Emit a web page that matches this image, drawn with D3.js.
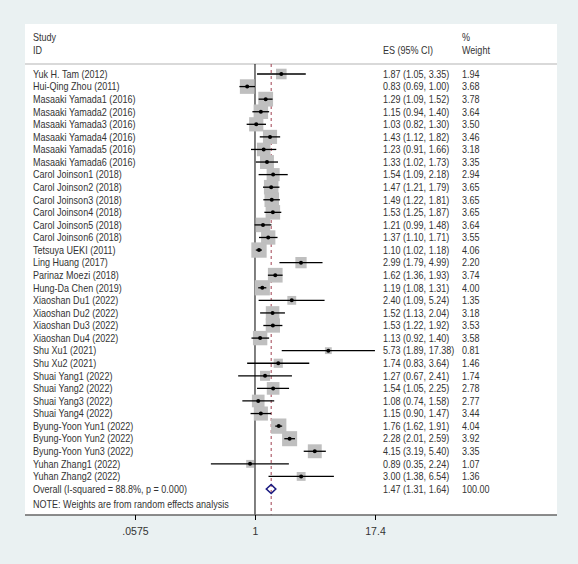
<!DOCTYPE html><html><head><meta charset="utf-8"><script src="https://cdn.jsdelivr.net/npm/d3@7"></script>
<style>body{margin:0;background:#eaf1f2}text{font-family:"Liberation Sans",Arial,sans-serif;fill:#333}</style></head><body>
<svg id="c" width="578" height="564"></svg>
<script>
const studies=["Yuk H. Tam (2012)","Hui-Qing Zhou (2011)","Masaaki Yamada1 (2016)","Masaaki Yamada2 (2016)","Masaaki Yamada3 (2016)","Masaaki Yamada4 (2016)","Masaaki Yamada5 (2016)","Masaaki Yamada6 (2016)","Carol Joinson1 (2018)","Carol Joinson2 (2018)","Carol Joinson3 (2018)","Carol Joinson4 (2018)","Carol Joinson5 (2018)","Carol Joinson6 (2018)","Tetsuya UEKI (2011)","Ling Huang (2017)","Parinaz Moezi (2018)","Hung-Da Chen (2019)","Xiaoshan Du1 (2022)","Xiaoshan Du2 (2022)","Xiaoshan Du3 (2022)","Xiaoshan Du4 (2022)","Shu Xu1 (2021)","Shu Xu2 (2021)","Shuai Yang1 (2022)","Shuai Yang2 (2022)","Shuai Yang3 (2022)","Shuai Yang4 (2022)","Byung-Yoon Yun1 (2022)","Byung-Yoon Yun2 (2022)","Byung-Yoon Yun3 (2022)","Yuhan Zhang1 (2022)","Yuhan Zhang2 (2022)"];
const es=[1.87,0.83,1.29,1.15,1.03,1.43,1.23,1.33,1.54,1.47,1.49,1.53,1.21,1.37,1.10,2.99,1.62,1.19,2.40,1.52,1.53,1.13,5.73,1.74,1.27,1.54,1.08,1.15,1.76,2.28,4.15,0.89,3.00];
const lo=[1.05,0.69,1.09,0.94,0.82,1.12,0.91,1.02,1.09,1.21,1.22,1.25,0.99,1.10,1.02,1.79,1.36,1.08,1.09,1.13,1.22,0.92,1.89,0.83,0.67,1.05,0.74,0.90,1.62,2.01,3.19,0.35,1.38];
const hi=[3.35,1.00,1.52,1.40,1.30,1.82,1.66,1.73,2.18,1.79,1.81,1.87,1.48,1.71,1.18,4.99,1.93,1.31,5.24,2.04,1.92,1.40,17.38,3.64,2.41,2.25,1.58,1.47,1.91,2.59,5.40,2.24,6.54];
const weight=["1.94","3.68","3.78","3.64","3.50","3.46","3.18","3.35","2.94","3.65","3.65","3.65","3.64","3.55","4.06","2.20","3.74","4.00","1.35","3.18","3.53","3.58","0.81","1.46","1.74","2.78","2.77","3.44","4.04","3.92","3.35","1.07","1.36"];
const overall={label:"Overall  (I-squared = 88.8%, p = 0.000)",es:1.47,lo:1.31,hi:1.64,w:"100.00"};
const ticks=[0.0575,1,17.4];
const tickLabels=[".0575","1","17.4"];

const svg=d3.select("#c");
svg.append("rect").attr("x",25).attr("y",24).attr("width",532).attr("height",491).attr("fill","#fff");
const x=d3.scaleLog().domain([0.0575,17.4]).range([135,375]);
const n=studies.length;
const y=d3.scaleLinear().domain([0,n]).range([74,489]);
const fs=10.5, sx=0.86;
function T(xx,yy,s,sel){return (sel||svg).append("text").attr("transform",`translate(${xx},${yy}) scale(${sx},1)`).attr("font-size",fs).text(s);}
T(33,41,"Study");T(33,54,"ID");T(383,54,"ES (95% CI)");T(462,41,"%");T(462,54,"Weight");
svg.append("line").attr("x1",25).attr("x2",557).attr("y1",64).attr("y2",64).attr("stroke","#ccc").attr("stroke-width",1.5);
svg.append("line").attr("x1",x(1)).attr("x2",x(1)).attr("y1",64).attr("y2",515).attr("stroke","#000");
svg.append("line").attr("x1",x(overall.es)).attr("x2",x(overall.es)).attr("y1",64).attr("y2",515).attr("stroke","#a04050").attr("stroke-dasharray","3,3");
const xmaxPix=415;
const g=svg.append("g");
studies.forEach((s,i)=>{
  const yy=y(i);
  const side=Math.sqrt(+weight[i])*7.6;
  g.append("rect").attr("x",x(es[i])-side/2).attr("y",yy-side/2).attr("width",side).attr("height",side).attr("fill","#bfbfbf");
  const x2=Math.min(x(hi[i]),xmaxPix);
  g.append("line").attr("x1",x(lo[i])).attr("x2",x2).attr("y1",yy).attr("y2",yy).attr("stroke","#000").attr("stroke-width",1.3);
  if(x(hi[i])>xmaxPix){
    g.append("path").attr("d",`M${xmaxPix},${yy}l-8,-4v8z`).attr("fill","#000");
  }
  g.append("circle").attr("cx",x(es[i])).attr("cy",yy).attr("r",2).attr("fill","#000");
  const ty=yy+3.8;
  T(33,ty,s,g);
  T(383,ty,`${es[i].toFixed(2)} (${lo[i].toFixed(2)}, ${hi[i].toFixed(2)})`,g);
  T(462,ty,weight[i],g);
});
const oy=y(n);
svg.append("path").attr("d",`M${x(overall.lo)},${oy}L${x(overall.es)},${oy-4.5}L${x(overall.hi)},${oy}L${x(overall.es)},${oy+4.5}Z`).attr("fill","none").attr("stroke","#1a1a80").attr("stroke-width",1.6);
T(33,oy+3.8,overall.label);
T(383,oy+3.8,`${overall.es.toFixed(2)} (${overall.lo.toFixed(2)}, ${overall.hi.toFixed(2)})`);
T(462,oy+3.8,overall.w);
T(33,508,"NOTE: Weights are from random effects analysis");
svg.append("line").attr("x1",25).attr("x2",557).attr("y1",515).attr("y2",515).attr("stroke","#666").attr("stroke-width",1.5);
const axis=d3.axisBottom(x).tickValues(ticks).tickFormat((d,i)=>tickLabels[i]).tickSize(5).tickPadding(8);
const a=svg.append("g").attr("transform","translate(0,515)").call(axis);
a.select(".domain").remove();
a.selectAll("text").attr("font-size",10.5).attr("font-family","Liberation Sans, Arial").attr("fill","#333");
</script></body></html>
